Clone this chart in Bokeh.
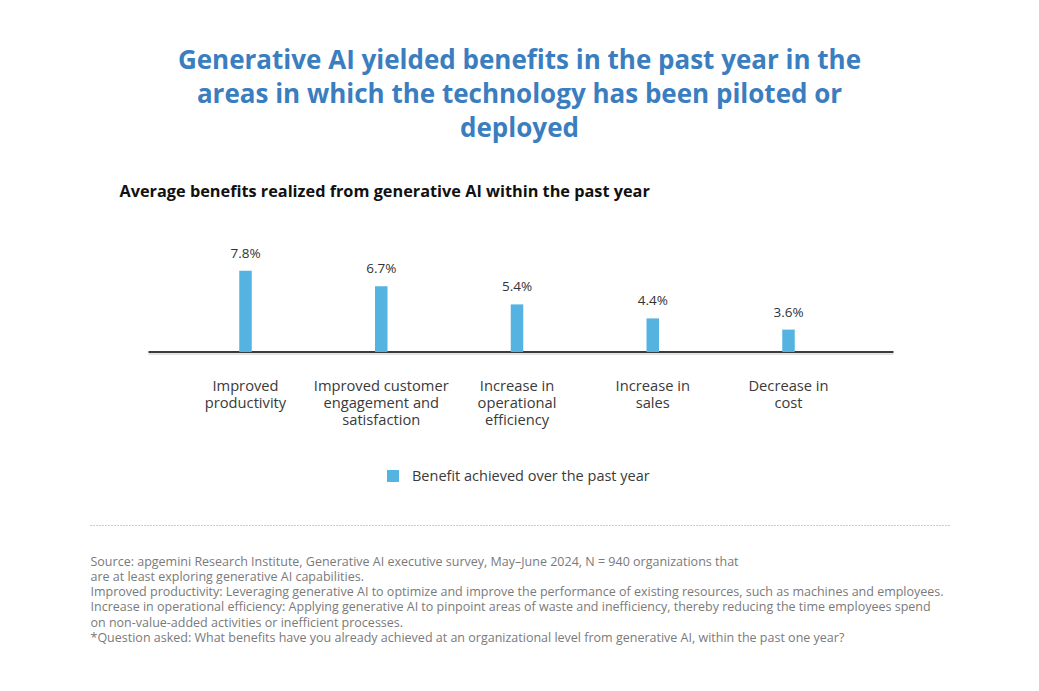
from bokeh.plotting import figure
from bokeh.models import Range1d, LinearScale, Legend, LegendItem, ColumnDataSource
from bokeh.core.properties import value
from bokeh.embed import file_html
from bokeh.resources import INLINE

# ---- data ----
categories = ["Improved productivity", "Improved customer engagement and satisfaction",
              "Increase in operational efficiency", "Increase in sales", "Decrease in cost"]
category_labels = ["Improved\nproductivity", "Improved customer\nengagement and\nsatisfaction",
                   "Increase in\noperational\nefficiency", "Increase in\nsales", "Decrease in\ncost"]
benefit = [7.8, 6.7, 5.4, 4.4, 3.6]
value_labels = ["7.8%", "6.7%", "5.4%", "4.4%", "3.6%"]
series_name = "Benefit achieved over the past year"

title_text = ("Generative AI yielded benefits in the past year in the\n"
              "areas in which the technology has been piloted or\n"
              "deployed")
subtitle_text = "Average benefits realized from generative AI within the past year"
footnote_lines = [
    "Source: apgemini Research Institute, Generative AI executive survey, May\u2013June 2024, N = 940 organizations that",
    "are at least exploring generative AI capabilities.",
    "Improved productivity: Leveraging generative AI to optimize and improve the performance of existing resources, such as machines and employees.",
    "Increase in operational efficiency: Applying generative AI to pinpoint areas of waste and inefficiency, thereby reducing the time employees spend",
    "on non-value-added activities or inefficient processes.",
    "*Question asked: What benefits have you already achieved at an organizational level from generative AI, within the past one year?",
]

# ---- layout constants ----
W, H = 1039, 691
BASE_Y = 351.5       # pixel row of the value-axis baseline
AXIS_MIN = 2.0       # value at the baseline (the original axis does not start at 0)
PX_PER_UNIT = 14.0   # pixels per percentage point
FIRST_X, LAST_X = 245, 788   # pixel centres of first / last category
FONT = "Open Sans"
BAR_COLOR = "#55b3e1"
TITLE_COLOR = "#3a7ebf"

n = len(categories)
step = (LAST_X - FIRST_X) / (n - 1)

p = figure(width=W, height=H, x_range=Range1d(0, W), y_range=Range1d(H, 0),
           output_backend="svg", toolbar_location=None, min_border=0,
           background_fill_color="white", border_fill_color="white")
p.axis.visible = False
p.grid.visible = False
p.outline_line_color = None

# value range with AXIS_MIN at BASE_Y ; category-index range
p.extra_y_ranges = {"val": Range1d(AXIS_MIN - (H - BASE_Y) / PX_PER_UNIT,
                                   AXIS_MIN + BASE_Y / PX_PER_UNIT)}
p.extra_y_scales = {"val": LinearScale()}
p.extra_x_ranges = {"cat": Range1d(-FIRST_X / step, (W - FIRST_X) / step)}
p.extra_x_scales = {"cat": LinearScale()}

src = ColumnDataSource(dict(idx=list(range(n)), cat=categories, v=benefit,
                            vl=value_labels, cl=category_labels))

# baseline
p.segment(x0=[148], x1=[893], y0=[BASE_Y + 2], y1=[BASE_Y + 2], line_color="#c8c8c8", line_width=1)
p.segment(x0=[148], x1=[893], y0=[BASE_Y], y1=[BASE_Y], line_color="#3a3a3a", line_width=2)

bars = p.vbar(x="idx", top="v", bottom=AXIS_MIN, width=12.5 / step, source=src,
              x_range_name="cat", y_range_name="val",
              fill_color=BAR_COLOR, line_color=None)

p.text(x="idx", y="v", text="vl", source=src, x_range_name="cat", y_range_name="val",
       y_offset=-9, text_align="center", text_baseline="bottom",
       text_font=value(FONT), text_font_size="13.5px", text_color="#333333")

p.text(x="idx", y=374, text="cl", source=src, x_range_name="cat",
       text_align="center", text_baseline="top", text_line_height=0.86,
       text_font=value(FONT), text_font_size="14.7px", text_color="#3a3a3a")

# title
p.text(x=[519], y=[40], text=[title_text], text_align="center", text_baseline="top",
       text_line_height=0.95, text_font=value(FONT), text_font_style="bold",
       text_font_size="26px", text_color=TITLE_COLOR)

# subtitle
p.text(x=[119], y=[190], text=[subtitle_text], text_align="left", text_baseline="middle",
       text_font=value(FONT), text_font_style="bold", text_font_size="16.3px", text_color="#111111")

# legend
legend = Legend(items=[LegendItem(label=series_name, renderers=[bars])],
                location=(385, H - 485), orientation="horizontal",
                glyph_width=15, glyph_height=15, label_height=15, label_standoff=12,
                padding=0, margin=0, border_line_color=None, background_fill_alpha=0,
                label_text_font=FONT, label_text_font_size="14.5px", label_text_color="#3a3a3a")
p.add_layout(legend)

# dotted separator
p.segment(x0=[90], x1=[950], y0=[525], y1=[525], line_color="#9a9a9a", line_width=1, line_dash="1 2")

# footnotes
p.text(x=[90], y=[552], text=["\n".join(footnote_lines)], text_align="left", text_baseline="top",
       text_line_height=0.9, text_font=value(FONT), text_font_size="12.5px", text_color="#7a7a7a")

open("out.html", "w").write(file_html(p, INLINE))
